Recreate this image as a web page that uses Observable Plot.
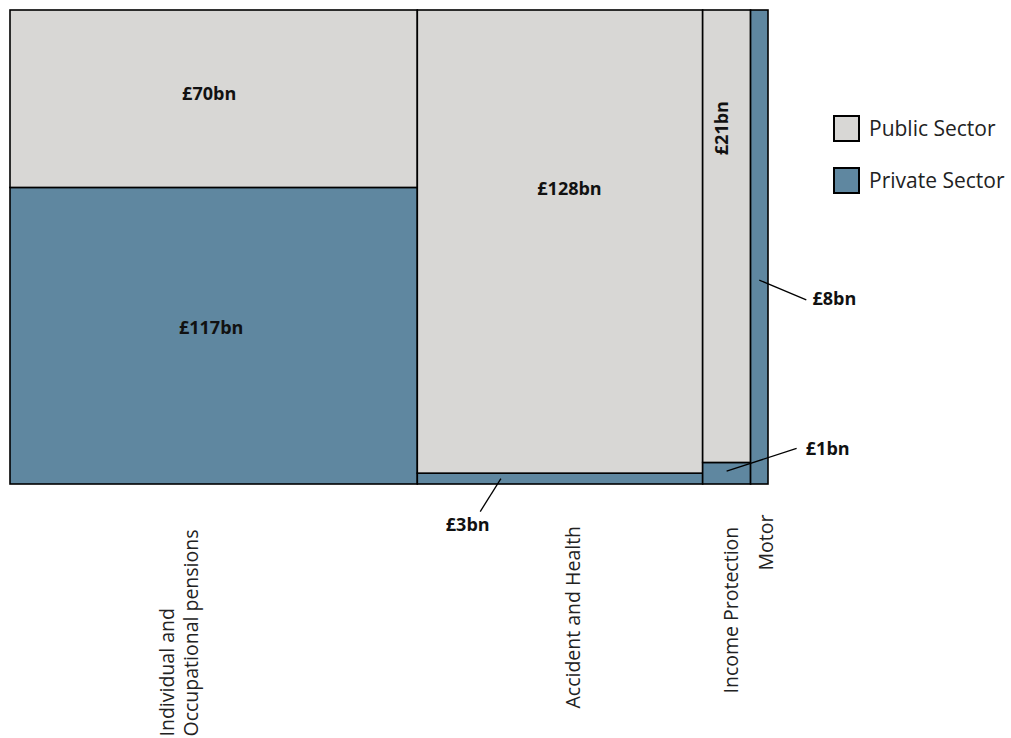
<!DOCTYPE html>
<html><head><meta charset="utf-8">
<script src="https://cdn.jsdelivr.net/npm/d3@7"></script>
<script src="https://cdn.jsdelivr.net/npm/@observablehq/plot@0.6"></script>
<style>
body{margin:0;background:#fff;font-family:"Open Sans",sans-serif;}
#wrap{position:relative;width:1011px;height:738px;}
.legend{position:absolute;left:833px;top:115px;}
.item{display:flex;align-items:center;height:27px;margin-bottom:25px;}
.sw{width:27px;height:27px;box-sizing:border-box;border:2.5px solid #000;margin-right:9px;flex:none;}
.item span{font-size:21px;color:#222;line-height:27px;white-space:nowrap;}
</style></head><body><div id="wrap"></div>
<script>
// ---- data ----
const categories = ["Individual and\nOccupational pensions", "Accident and Health", "Income Protection", "Motor"];
const publicSector = [70, 128, 21, 0];   // £bn
const privateSector = [117, 3, 1, 8];    // £bn
const sectorNames = ["Public Sector", "Private Sector"];
const sectorColors = ["#d8d7d5", "#5f87a0"];

// ---- build marimekko segments ----
const totals = categories.map((c, i) => publicSector[i] + privateSector[i]);
const grand = d3.sum(totals);
const segs = [];
let cum = 0;
categories.forEach((c, i) => {
  const x1 = cum, x2 = cum + totals[i]; cum = x2;
  const p = privateSector[i] / totals[i];
  segs.push({i, cat: c, sector: "Private Sector", value: privateSector[i], x1, x2, y1: 0, y2: p});
  if (publicSector[i] > 0) segs.push({i, cat: c, sector: "Public Sector", value: publicSector[i], x1, x2, y1: p, y2: 1});
});
const fmt = v => `£${v}bn`;
const key = s => s.i + "|" + s.sector;

// label layout (code, not data)
const inside = {
  "0|Public Sector": {pos: 0.53, dx: -5},
  "0|Private Sector": {pos: 0.527, dx: -3},
  "1|Public Sector": {pos: 0.615, dx: 9},
  "2|Public Sector": {pos: 0.74, dx: -5, rotate: -90}
};
const callouts = {
  "1|Private Sector": {fx: 0.293, fy: 0.5, lx: -20.7, ly: 33, tx: -33.7, ty: 46.3, anchor: "middle"},
  "2|Private Sector": {fx: 0.5, fy: 0.6, lx: 70, ly: -22.7, tx: 78.7, ty: -22, anchor: "start"},
  "3|Private Sector": {fx: 0.5, fy: 0.43, lx: 47, ly: 19.7, tx: 52.7, ty: 19, anchor: "start"}
};
const catLayout = [
  {dx: -36, dy: 252},
  {dx: 12, dy: 224},
  {dx: 3, dy: 209},
  {dx: 5.5, dy: 86}
];

const midX = s => (s.x1 + s.x2) / 2;
const marks = [
  Plot.rect(segs, {x1: "x1", x2: "x2", y1: "y1", y2: "y2",
    fill: d => sectorColors[sectorNames.indexOf(d.sector)], stroke: "#000", strokeWidth: 1.6})
];
segs.filter(s => inside[key(s)]).forEach(s => {
  const L = inside[key(s)];
  marks.push(Plot.text([s], {x: midX, y: d => d.y1 + L.pos * (d.y2 - d.y1), text: d => fmt(d.value),
    dx: L.dx, rotate: L.rotate || 0, fontWeight: "bold", fontSize: 18, fill: "#111"}));
});
segs.filter(s => callouts[key(s)]).forEach(s => {
  const C = callouts[key(s)];
  const ax = d => d.x1 + C.fx * (d.x2 - d.x1), ay = d => d.y1 + C.fy * (d.y2 - d.y1);
  marks.push(Plot.text([s], {x: ax, y: ay, text: d => fmt(d.value), dx: C.tx, dy: C.ty,
    textAnchor: C.anchor, fontWeight: "bold", fontSize: 18, fill: "#111"}));
  // leader line drawn through the plot's scales
  marks.push((index, scales) => {
    const X = scales.x(ax(s)), Y = scales.y(ay(s));
    const g = d3.create("svg:g");
    g.append("line").attr("x1", X).attr("y1", Y).attr("x2", X + C.lx).attr("y2", Y + C.ly)
      .attr("stroke", "#000").attr("stroke-width", 1.3);
    return g.node();
  });
});
const catRows = categories.map((c, i) => ({c, x: segs.find(s => s.i === i).x1 + totals[i] / 2}));
catRows.forEach((r, i) => {
  marks.push(Plot.text([r], {x: "x", y: () => 0, text: "c", rotate: -90, textAnchor: "start",
    lineAnchor: "middle", lineHeight: 1.25, dx: catLayout[i].dx, dy: catLayout[i].dy,
    fontSize: 19.5, fill: "#222"}));
});

const chart = Plot.plot({
  width: 1011, height: 738,
  marginTop: 10, marginLeft: 10, marginRight: 243, marginBottom: 254,
  x: {domain: [0, grand], axis: null},
  y: {domain: [0, 1], axis: null},
  style: {fontFamily: "'Open Sans', sans-serif", background: "#fff", overflow: "visible"},
  marks
});
const wrap = document.getElementById("wrap");
wrap.appendChild(chart);

// legend
const leg = document.createElement("div");
leg.className = "legend";
sectorNames.forEach((n, i) => {
  const it = document.createElement("div"); it.className = "item";
  const sw = document.createElement("div"); sw.className = "sw"; sw.style.background = sectorColors[i];
  const sp = document.createElement("span"); sp.textContent = n;
  it.appendChild(sw); it.appendChild(sp); leg.appendChild(it);
});
wrap.appendChild(leg);
</script>
</body></html>
